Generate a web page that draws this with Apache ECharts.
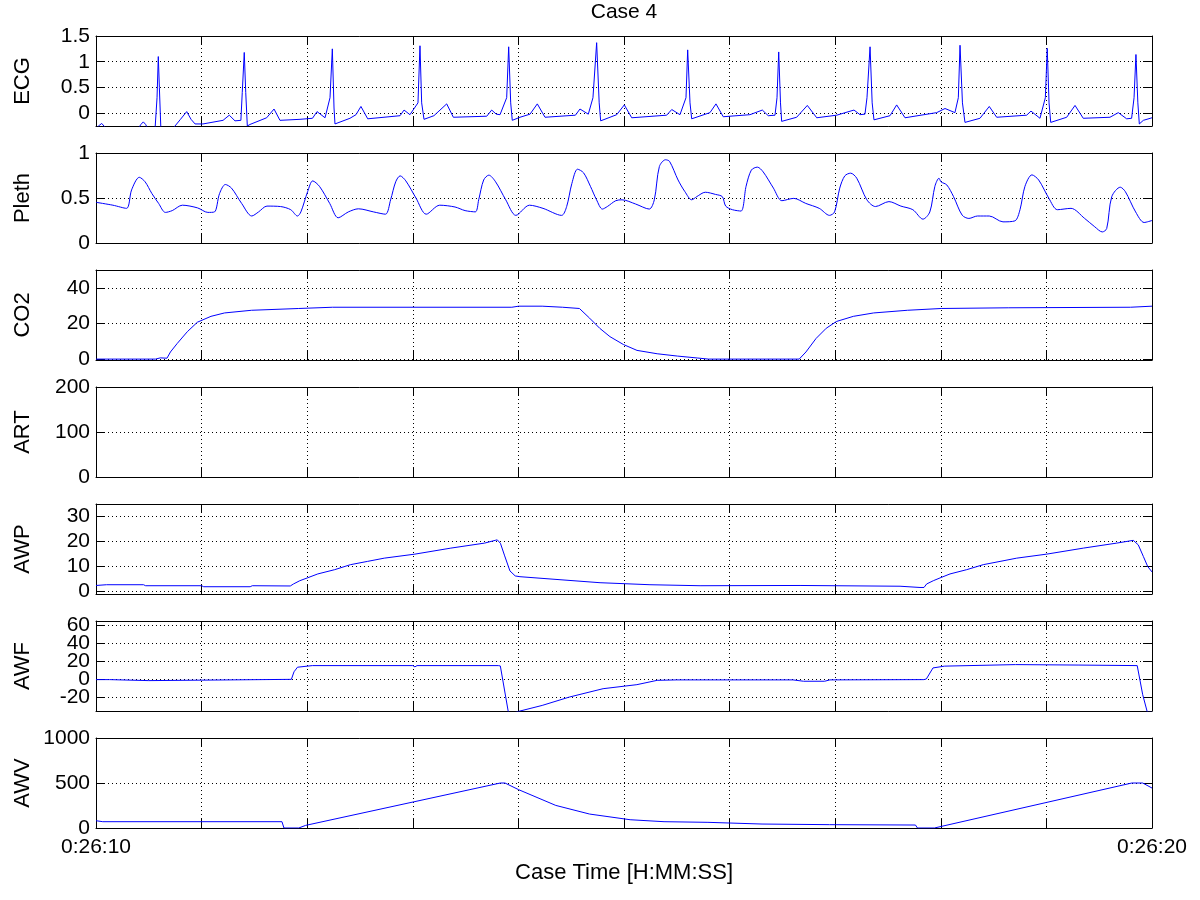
<!DOCTYPE html>
<html><head><meta charset="utf-8">
<script src="https://cdn.jsdelivr.net/npm/echarts@6/dist/echarts.min.js"></script>
<style>html,body{margin:0;background:#fff}#c{width:1200px;height:900px}</style>
</head><body><div id="c"></div>
<script>
// ---- data ----
const titleText = 'Case 4';
const xName = 'Case Time [H:MM:SS]';
const panelNames = ['ECG', 'Pleth', 'CO2', 'ART', 'AWP', 'AWF', 'AWV'];
const yMin = [-0.25, 0, -0.5, 0, -1.2, -35.6, 0];
const yMax = [1.5, 1, 50, 200, 34.7, 64.5, 1000];
const yTicks = [[0, 0.5, 1, 1.5], [0, 0.5, 1], [0, 20, 40], [0, 100, 200], [0, 10, 20, 30], [-20, 0, 20, 40, 60], [0, 500, 1000]];
// tick labels, split into two label layers so closely spaced labels are all kept
const yLabelsA = [[0, 0.5, 1, 1.5], [0, 0.5, 1], [0, 20, 40], [0, 100, 200], [0, 10, 20, 30], [-20, 20, 60], [0, 500, 1000]];
const yLabelsB = [[], [], [], [], [], [0, 40], []];
const xTickLabels = ['0:26:10', '', '', '', '', '', '', '', '', '', '0:26:20'];

const ecg = [[0,-0.30],[0.03,-0.24],[0.054,-0.20],[0.08,-0.26],[0.10,-0.32],[0.40,-0.30],[0.425,-0.22],[0.448,-0.17],[0.47,-0.22],[0.49,-0.30],[0.56,-0.28],[0.578,0.3],[0.590,1.10],[0.600,0.5],[0.615,-0.35],[0.70,-0.35],[0.748,-0.25],[0.80,-0.12],[0.859,0.03],[0.90,-0.12],[0.938,-0.21],[1.013,-0.21],[1.203,-0.14],[1.262,-0.04],[1.316,-0.15],[1.372,-0.14],[1.385,0.4],[1.404,1.18],[1.418,0.4],[1.433,-0.25],[1.458,-0.22],[1.616,-0.09],[1.686,0.08],[1.742,-0.14],[1.932,-0.12],
[2.05,-0.1],[2.093,0.03],[2.169,-0.09],[2.216,0.3],[2.238,1.25],[2.254,0.1],[2.263,-0.21],[2.405,-0.1],[2.462,-0.03],[2.509,0.13],[2.573,-0.11],[2.879,-0.05],[2.917,0.06],[2.973,-0.03],[3.049,0.2],[3.068,1.31],[3.084,0.2],[3.106,-0.12],[3.2,-0.05],[3.321,0.18],[3.384,-0.08],[3.70,-0.06],[3.747,0.06],[3.79,-0.02],[3.826,-0.03],[3.889,0.3],[3.908,1.29],[3.927,0.2],[3.942,-0.14],[4.015,-0.08],[4.110,-0.02],[4.179,0.18],[4.252,-0.08],[4.540,-0.04],[4.583,0.08],[4.662,-0.02],[4.706,0.3],[4.741,1.37],[4.765,0.2],[4.779,-0.15],[4.931,-0.03],[5.003,0.16],[5.073,-0.09],[5.404,-0.04],[5.452,0.07],[5.530,-0.03],[5.587,0.3],[5.603,1.23],[5.625,0.2],[5.641,-0.11],[5.814,0.01],[5.871,0.18],[5.940,-0.07],[6.193,-0.03],[6.310,0.06],[6.366,-0.05],[6.430,-0.04],[6.449,0.3],[6.465,1.19],[6.482,0.2],[6.493,-0.16],[6.635,-0.08],[6.736,0.15],[6.825,-0.09],[7.014,-0.04],[7.178,0.06],[7.235,-0.03],[7.282,-0.02],[7.301,0.3],[7.330,1.29],[7.350,0.2],[7.367,-0.13],[7.519,-0.05],[7.582,0.16],[7.661,-0.09],[7.961,0.01],[8.040,0.09],[8.134,0.01],[8.166,0.3],[8.182,1.32],[8.205,0.2],[8.229,-0.18],[8.371,-0.1],[8.459,0.13],[8.529,-0.08],[8.813,-0.04],[8.854,0.04],[8.939,-0.1],[8.990,0.3],[9.008,1.26],[9.025,0.2],[9.041,-0.18],[9.192,-0.08],[9.271,0.15],[9.349,-0.1],[9.602,-0.08],[9.681,0.01],[9.760,-0.11],[9.807,-0.1],[9.830,0.3],[9.848,1.14],[9.866,0.2],[9.880,-0.21],[9.918,-0.14],[10.0,-0.09]];

const pleth = [[0.000,0.452],[0.160,0.42],[0.289,0.385],[0.337,0.59],[0.410,0.73],[0.465,0.68],[0.529,0.55],[0.593,0.44],[0.657,0.34],[0.722,0.36],[0.818,0.42],[0.962,0.39],[1.059,0.34],[1.122,0.345],[1.170,0.55],[1.225,0.65],[1.283,0.61],[1.379,0.44],[1.475,0.30],[1.539,0.345],[1.619,0.41],[1.748,0.405],[1.844,0.37],[1.908,0.30],[1.940,0.345],[2.004,0.57],[2.052,0.69],[2.116,0.63],[2.213,0.44],[2.293,0.28],[2.389,0.345],[2.485,0.38],[2.630,0.345],[2.741,0.32],[2.790,0.48],[2.838,0.68],[2.880,0.746],[2.934,0.69],[3.030,0.50],[3.127,0.32],[3.255,0.42],[3.400,0.40],[3.495,0.36],[3.592,0.346],[3.624,0.48],[3.671,0.70],[3.720,0.754],[3.784,0.68],[3.880,0.48],[3.976,0.307],[4.105,0.42],[4.233,0.385],[4.409,0.307],[4.457,0.405],[4.506,0.66],[4.560,0.82],[4.617,0.78],[4.682,0.63],[4.740,0.48],[4.795,0.377],[4.842,0.405],[4.922,0.47],[4.981,0.48],[5.110,0.433],[5.239,0.377],[5.287,0.48],[5.335,0.85],[5.393,0.925],[5.432,0.906],[5.512,0.70],[5.577,0.57],[5.641,0.48],[5.689,0.515],[5.770,0.564],[5.866,0.54],[5.931,0.515],[5.963,0.41],[6.027,0.37],[6.108,0.355],[6.156,0.63],[6.206,0.81],[6.263,0.843],[6.318,0.79],[6.415,0.61],[6.495,0.47],[6.608,0.496],[6.721,0.44],[6.849,0.385],[6.946,0.307],[6.994,0.345],[7.043,0.61],[7.091,0.746],[7.146,0.776],[7.204,0.72],[7.300,0.48],[7.381,0.405],[7.509,0.46],[7.622,0.41],[7.735,0.37],[7.831,0.265],[7.896,0.345],[7.944,0.63],[7.983,0.72],[8.002,0.68],[8.057,0.645],[8.121,0.515],[8.202,0.31],[8.266,0.273],[8.347,0.30],[8.459,0.30],[8.589,0.235],[8.702,0.246],[8.750,0.37],[8.797,0.63],[8.863,0.757],[8.927,0.70],[9.024,0.496],[9.104,0.37],[9.233,0.385],[9.362,0.273],[9.458,0.18],[9.529,0.123],[9.571,0.16],[9.619,0.515],[9.700,0.62],[9.748,0.57],[9.845,0.345],[9.925,0.228],[10.0,0.25]];

const co2 = [[0,0],[0.563,0],[0.58,0.7],[0.61,0.7],[0.628,0],[0.672,0.5],[0.705,4.0],[0.768,8.7],[0.865,15.4],[0.960,20.7],[1.089,24],[1.217,25.9],[1.473,27.4],[1.920,28.4],[2.241,29.1],[3.938,29.1],[4.002,29.7],[4.225,29.7],[4.418,29.1],[4.578,28.4],[4.674,23],[4.770,17.3],[4.867,12.6],[4.994,8.2],[5.123,4.9],[5.314,3.0],[5.507,1.7],[5.699,0.6],[5.8,0],[6.659,0],[6.723,4.0],[6.819,11.6],[6.915,17.3],[7.011,21.1],[7.172,24],[7.364,25.9],[7.684,27.4],[8.004,28.4],[8.644,28.8],[9.796,29.1],[9.80,29.7],[10,29.7]];

const art = [];

const awp = [[0,2.2],[0.10,2.5],[0.45,2.5],[0.47,2.1],[1.0,2.1],[1.02,1.7],[1.46,1.7],[1.48,2.1],[1.84,2.0],[1.87,2.8],[1.93,4.1],[2.00,5.2],[2.10,6.8],[2.26,8.5],[2.41,10.5],[2.57,11.8],[2.73,13.1],[3.02,14.7],[3.36,17.1],[3.68,19.1],[3.78,20.2],[3.80,20.4],[3.83,19.0],[3.87,14.0],[3.92,8.0],[3.97,6.0],[4.015,5.7],[4.394,4.5],[4.773,3.3],[5.246,2.5],[5.720,2.1],[6.667,2.2],[7.614,1.9],[7.803,1.4],[7.841,1.4],[7.866,2.8],[7.929,4.1],[7.992,5.2],[8.087,6.8],[8.245,8.5],[8.402,10.5],[8.561,11.8],[8.719,13.1],[9.003,14.7],[9.350,17.1],[9.666,19.1],[9.823,20.2],[9.839,20.4],[9.870,18.4],[9.918,13.8],[9.959,9.8],[10.0,7.6]];

const awf = [[0,-0.7],[0.128,-0.7],[0.14,-1.8],[0.50,-1.8],[0.511,-0.4],[1.85,-0.4],[1.875,8],[1.908,13.1],[2.049,14.9],[3.0,14.9],[3.02,13.5],[3.04,14.9],[3.810,14.9],[3.829,14.5],[3.905,-37],[3.95,-38],[4.002,-36],[4.225,-29.4],[4.482,-20.1],[4.802,-10.8],[5.122,-6.3],[5.314,-1.5],[5.5,-1.0],[6.0,-1.0],[6.6,-1.0],[6.7,-2.5],[6.9,-2.5],[6.95,-1.0],[7.84,-0.7],[7.863,0],[7.926,12.3],[8.036,14.3],[8.707,16],[9.3,15.5],[9.860,14.9],[9.912,-17.5],[9.956,-37],[10,-37]];

const awv = [[0,81],[0.064,70],[1.761,70],[1.780,0],[1.920,0],[1.985,29],[3.829,500],[3.873,500],[4.002,426],[4.354,251],[4.674,155],[5.058,92],[5.379,70],[5.795,63],[6.307,44],[6.947,37],[7.760,33],[7.779,0],[7.939,0],[9.809,500],[9.912,500],[10,444]];

const seriesData = [ecg, pleth, co2, art, awp, awf, awv];
const smoothing = [0, 0.3, 0, 0, 0, 0, 0];

// ---- chart ----
const FONT = "'Liberation Sans', Arial, Helvetica, sans-serif";
const chart = echarts.init(document.getElementById('c'), null, {renderer: 'canvas'});
const N = panelNames.length;
const grids = [], xAxes = [], yAxes = [], series = [];
const axisLine = {show: true, onZero: false, lineStyle: {color: '#000', width: 1}};
const dotted = {show: true, lineStyle: {color: '#000', width: 1, type: [1, 3]}};
const tick = {show: true, inside: true, length: 9, lineStyle: {color: '#000'}};
const labelStyle = {color: '#000', fontSize: 21, fontFamily: FONT, margin: 6,
  showMinLabel: true, showMaxLabel: true, hideOverlap: false, formatter: v => String(v)};
for (let i = 0; i < N; i++) {
  grids.push({left: 96, right: 48, top: 36 + i * 117, height: 90});
}
for (let i = 0; i < N; i++) {
  xAxes.push({
    type: 'value', gridIndex: i, position: 'bottom', min: 0, max: 10, interval: 1,
    axisLine: axisLine, axisTick: tick,
    axisLabel: {show: i === N - 1, color: '#000', fontSize: 21, fontFamily: FONT, margin: 9,
      showMinLabel: true, showMaxLabel: true, hideOverlap: false,
      formatter: v => xTickLabels[Math.round(v)] || ''},
    splitLine: dotted,
    name: i === N - 1 ? xName : '', nameLocation: 'middle', nameGap: 34, nameMoveOverlap: false,
    nameTextStyle: {color: '#000', fontSize: 22, fontFamily: FONT, verticalAlign: 'top'}
  });
}
for (let i = 0; i < N; i++) {
  xAxes.push({
    type: 'value', gridIndex: i, position: 'top', min: 0, max: 10, interval: 1,
    axisLine: axisLine, axisTick: tick,
    axisLabel: {show: false}, splitLine: {show: false}
  });
}
for (let i = 0; i < N; i++) {
  yAxes.push({
    type: 'value', gridIndex: i, position: 'left', min: yMin[i], max: yMax[i],
    axisLine: axisLine,
    axisTick: Object.assign({customValues: yTicks[i]}, tick),
    axisLabel: Object.assign({show: true, customValues: yLabelsA[i]}, labelStyle),
    splitLine: dotted,
    name: panelNames[i], nameLocation: 'middle', nameGap: 62, nameRotate: 90, nameMoveOverlap: false,
    nameTextStyle: {color: '#000', fontSize: 22, fontFamily: FONT}
  });
}
for (let i = 0; i < N; i++) {
  yAxes.push({
    type: 'value', gridIndex: i, position: 'right', min: yMin[i], max: yMax[i],
    axisLine: axisLine,
    axisTick: Object.assign({customValues: yTicks[i]}, tick),
    axisLabel: {show: false, customValues: yTicks[i]}, splitLine: {show: false}
  });
}
for (let i = 0; i < N; i++) {
  if (!yLabelsB[i].length) continue;
  yAxes.push({
    type: 'value', gridIndex: i, position: 'left', offset: 0, min: yMin[i], max: yMax[i],
    axisLine: {show: false}, axisTick: {show: false}, splitLine: {show: false},
    axisLabel: Object.assign({show: true, customValues: yLabelsB[i]}, labelStyle)
  });
}
for (let i = 0; i < N; i++) {
  series.push({
    type: 'line', xAxisIndex: i, yAxisIndex: i, data: seriesData[i],
    showSymbol: false, symbol: 'none', clip: true, smooth: smoothing[i],
    lineStyle: {color: '#0000ff', width: 1}, itemStyle: {color: '#0000ff'}
  });
}
chart.setOption({
  animation: false,
  backgroundColor: '#fff',
  graphic: [{type: 'text', x: 624, y: 12, silent: true,
    style: {text: titleText, align: 'center', verticalAlign: 'middle', fill: '#000',
      font: "21px 'Liberation Sans', Arial, sans-serif"}}],
  grid: grids, xAxis: xAxes, yAxis: yAxes, series: series
});
</script></body></html>
